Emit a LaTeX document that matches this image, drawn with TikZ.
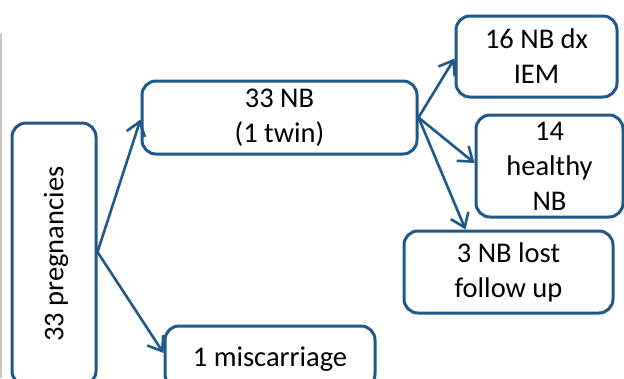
\documentclass[tikz,border=0pt]{standalone}
\usepackage{fontspec}
\setmainfont{Carlito}
\usetikzlibrary{arrows.meta,calc}
\definecolor{boxblue}{RGB}{32,88,138}
\begin{document}
\begin{tikzpicture}[x=1pt,y=-1pt,
  box/.style={draw=boxblue,line width=3pt,rounded corners=14pt,inner sep=0pt,align=center,
    font=\fontsize{28.5}{35}\selectfont,fill=white},
  conn/.style={draw=boxblue,line width=2.6pt,-{Straight Barb[length=13pt,width=19pt]}}]
\useasboundingbox (0,0) rectangle (624,378);
\clip (0,0) rectangle (624,378);
\draw[line width=2pt,gray!45] (1,33) -- (1,378);
\node[box,minimum width=84pt,minimum height=262pt] (preg) at (54,254) {};
\node[rotate=90,font=\fontsize{28.5}{35}\selectfont] (pregt) at (56,254) {33 pregnancies};
\node[box,minimum width=275pt,minimum height=73pt] (nb) at (279.5,117.5) {33 NB\\(1 twin)};
\node[box,minimum width=161pt,minimum height=81pt] (iem) at (536.5,56.5) {16 NB dx\\IEM};
\node[box,minimum width=147pt,minimum height=102pt] (healthy) at (549.5,166) {14\\healthy\\NB};
\node[box,minimum width=209pt,minimum height=82pt] (lost) at (508.5,272) {3 NB lost\\follow up};
\node[box,minimum width=210pt,minimum height=62pt,text depth=0pt] (misc) at (270,357) {1 miscarriage};
\draw[conn] ([yshift=2pt]preg.east) -- ([yshift=-2pt]nb.west);
\draw[conn] ([yshift=2pt]preg.east) -- ([yshift=4pt]misc.west);
\draw[conn] (nb.east) -- ([yshift=-2pt]iem.west);
\draw[conn] (nb.east) -- ([yshift=3pt]healthy.west);
\draw[conn] (nb.east) -- ([xshift=-43pt]lost.north);
\end{tikzpicture}
\end{document}
